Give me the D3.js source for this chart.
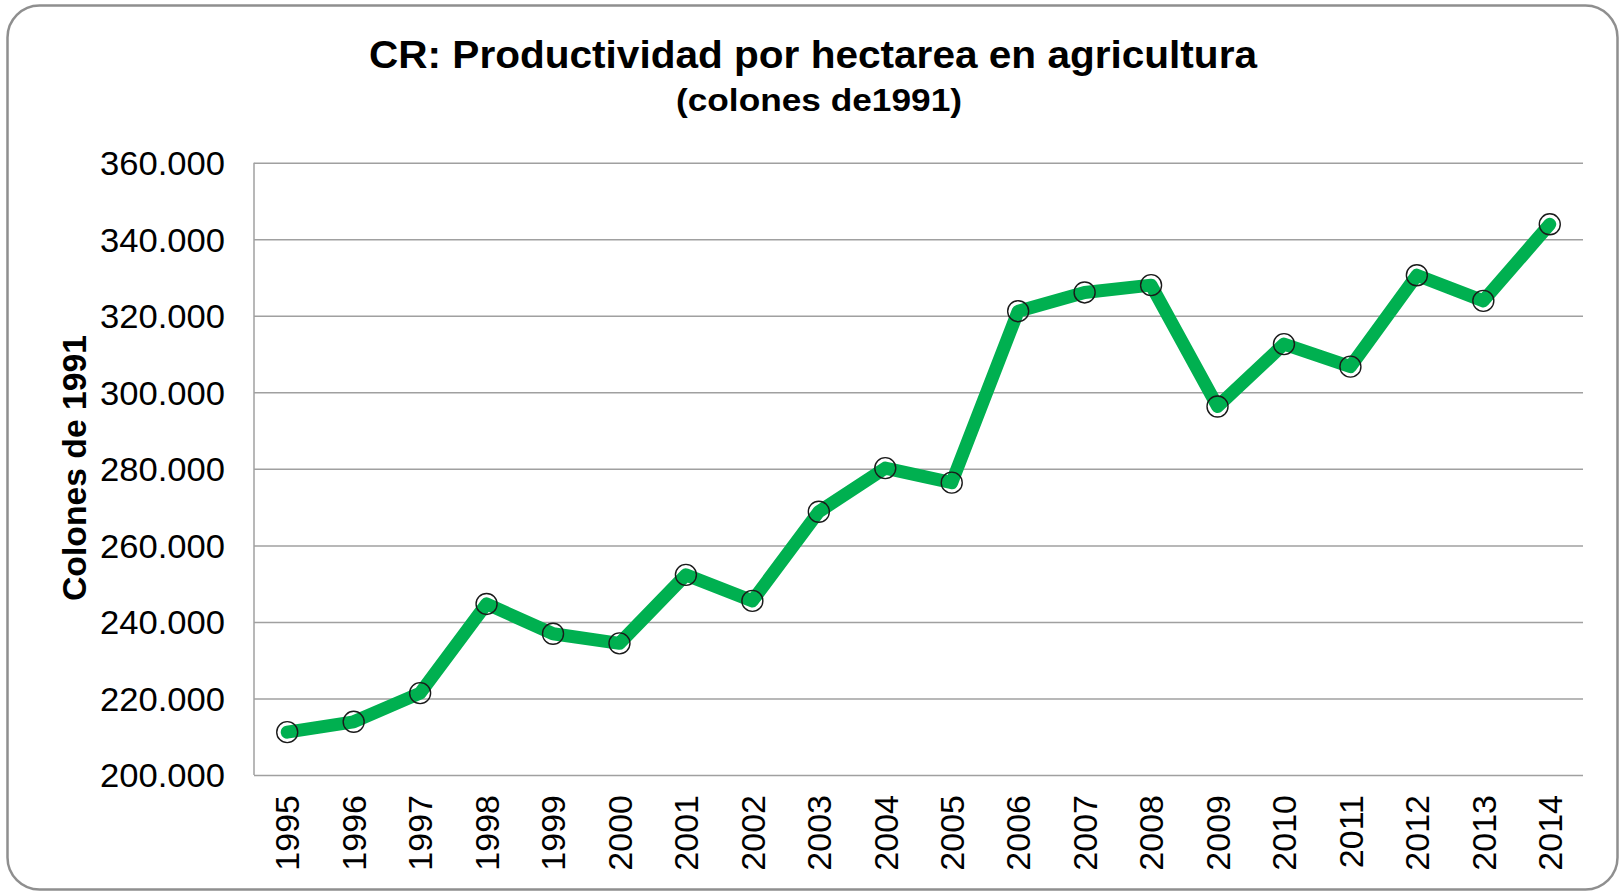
<!DOCTYPE html>
<html>
<head>
<meta charset="utf-8">
<script src="https://cdn.jsdelivr.net/npm/d3@7/dist/d3.min.js"></script>
<style>
  html, body { margin: 0; padding: 0; background: #ffffff; }
  svg { display: block; }
  text { font-family: "Liberation Sans", Arial, sans-serif; fill: #000; }
</style>
</head>
<body>
<svg id="chart" width="1624" height="893"></svg>
<script>
// ---- Data ----
const years = ["1995","1996","1997","1998","1999","2000","2001","2002","2003","2004",
               "2005","2006","2007","2008","2009","2010","2011","2012","2013","2014"];
const productividad = [211.2, 213.9, 221.4, 244.7, 236.9, 234.4, 252.3, 245.5, 268.8, 280.2,
                       276.4, 321.2, 326.1, 328.0, 296.3, 312.6, 306.7, 330.6, 323.9, 343.9];
const yTicks = [200, 220, 240, 260, 280, 300, 320, 340, 360];
const yTickLabels = ["200.000","220.000","240.000","260.000","280.000","300.000","320.000","340.000","360.000"];
const titleText = "CR: Productividad por hectarea en agricultura";
const subtitleText = "(colones de1991)";
const yAxisTitle = "Colones de 1991";

// ---- Layout ----
const svg = d3.select("#chart");
const plot = { left: 254, right: 1583, top: 162.7, bottom: 775 };

// Card frame
svg.append("rect")
  .attr("x", 7.5).attr("y", 5.5)
  .attr("width", 1610).attr("height", 884)
  .attr("rx", 32).attr("ry", 32)
  .attr("fill", "#ffffff")
  .attr("stroke", "#8f8f8f")
  .attr("stroke-width", 2.5);

const x = d3.scaleBand().domain(years).range([plot.left, plot.right]).paddingInner(0).paddingOuter(0);
const y = d3.scaleLinear().domain([200, 360]).range([plot.bottom, plot.top]);

function fit(sel, w) {
  sel.each(function() {
    const cur = this.getComputedTextLength();
    if (Math.abs(cur - w) > 1) {
      d3.select(this).attr("textLength", w).attr("lengthAdjust", "spacingAndGlyphs");
    }
  });
}

// Gridlines
const grid = d3.axisLeft(y).tickValues(yTicks).tickSize(-(plot.right - plot.left)).tickFormat("");
const gridG = svg.append("g").attr("transform", `translate(${plot.left},0)`).call(grid);
gridG.select(".domain").remove();
gridG.selectAll("line").attr("stroke", "#a0a0a0").attr("stroke-width", 1.5);

// Left axis line
svg.append("line")
  .attr("x1", plot.left).attr("x2", plot.left)
  .attr("y1", plot.top).attr("y2", plot.bottom)
  .attr("stroke", "#a0a0a0").attr("stroke-width", 1.5);

// Y axis labels
const yAxis = d3.axisLeft(y).tickValues(yTicks).tickSize(0).tickPadding(0)
  .tickFormat((d) => yTickLabels[yTicks.indexOf(d)]);
const yG = svg.append("g").attr("transform", `translate(225,0)`).call(yAxis);
yG.select(".domain").remove();
yG.selectAll("text")
  .attr("font-size", 33)
  .attr("font-family", "Liberation Sans, Arial, sans-serif")
  .attr("fill", "#000")
  .attr("dy", "0.36em")
  .call(fit, 125);

// X axis labels (rotated)
const xAxis = d3.axisBottom(x).tickSize(0).tickPadding(0);
const xG = svg.append("g").attr("transform", `translate(0,${plot.bottom})`).call(xAxis);
xG.select(".domain").remove();
xG.selectAll("text")
  .attr("font-size", 34)
  .attr("font-family", "Liberation Sans, Arial, sans-serif")
  .attr("fill", "#000")
  .attr("text-anchor", "end")
  .attr("transform", "translate(0,20) rotate(-90)")
  .attr("x", 0).attr("y", 0)
  .attr("dy", "0.36em");

// Line
const line = d3.line()
  .x((d, i) => x(years[i]) + x.bandwidth() / 2)
  .y(d => y(d));
svg.append("path")
  .datum(productividad)
  .attr("d", line)
  .attr("fill", "none")
  .attr("stroke", "#00b050")
  .attr("stroke-width", 13)
  .attr("stroke-linejoin", "round")
  .attr("stroke-linecap", "round");

// Markers
svg.append("g").selectAll("circle")
  .data(productividad)
  .join("circle")
  .attr("cx", (d, i) => x(years[i]) + x.bandwidth() / 2)
  .attr("cy", d => y(d))
  .attr("r", 10.5)
  .attr("fill", "none")
  .attr("stroke", "#1a1a1a")
  .attr("stroke-width", 1.4);

// Titles
svg.append("text")
  .attr("x", 813).attr("y", 68)
  .attr("text-anchor", "middle")
  .attr("font-size", 39)
  .attr("font-weight", "bold")
  .text(titleText)
  .call(fit, 888);

svg.append("text")
  .attr("x", 819).attr("y", 111)
  .attr("text-anchor", "middle")
  .attr("font-size", 32)
  .attr("font-weight", "bold")
  .text(subtitleText)
  .call(fit, 286);

svg.append("text")
  .attr("transform", "translate(86,468) rotate(-90)")
  .attr("text-anchor", "middle")
  .attr("font-size", 33)
  .attr("font-weight", "bold")
  .text(yAxisTitle)
  .call(fit, 266);
</script>
</body>
</html>
